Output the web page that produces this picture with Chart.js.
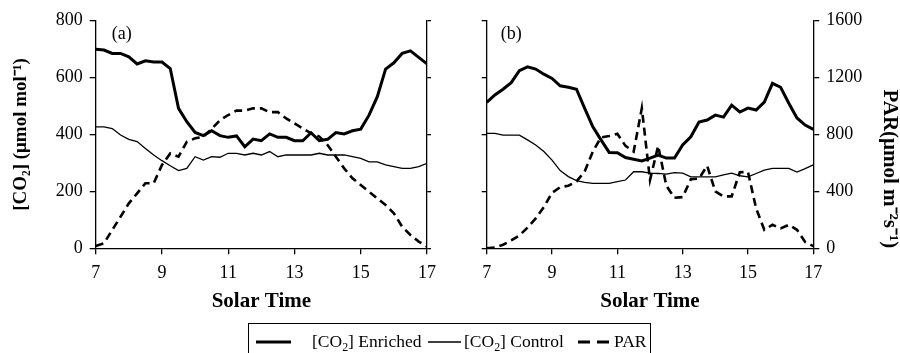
<!DOCTYPE html>
<html>
<head>
<meta charset="utf-8">
<script src="https://cdn.jsdelivr.net/npm/chart.js@4.4.1/dist/chart.umd.min.js"></script>
<style>
  html, body { margin: 0; padding: 0; background: #fff; }
  #page { position: relative; width: 900px; height: 353px; overflow: hidden; }
  .panel { position: absolute; top: 0; width: 450px; height: 353px; }
  #panelA { left: 0; }
  #panelB { left: 450px; }
  #legend {
    position: absolute; left: 248px; top: 323px; width: 403px; height: 45px;
    border: 1.3px solid #000; box-sizing: border-box;
    font-family: "Liberation Serif", "Times New Roman", serif; font-size: 17.5px; color: #000;
  }
  #legend .txt { position: absolute; top: 6px; line-height: 22px; white-space: nowrap; }
  #legend sub { font-size: 0.68em; line-height: 0; vertical-align: -0.3em; }
  #legend svg { position: absolute; top: 15px; }
</style>
</head>
<body>
<div id="page">
  <div class="panel" id="panelA"><canvas id="chartA"></canvas></div>
  <div class="panel" id="panelB"><canvas id="chartB"></canvas></div>
  <div id="legend">
    <svg style="left:7px" width="35" height="6"><line x1="0" y1="3" x2="35" y2="3" stroke="#000" stroke-width="3"/></svg>
    <span class="txt" style="left:63px">[CO<sub>2</sub>] Enriched</span>
    <svg style="left:179px" width="33" height="6"><line x1="0" y1="3" x2="33" y2="3" stroke="#000" stroke-width="1.3"/></svg>
    <span class="txt" style="left:215px">[CO<sub>2</sub>] Control</span>
    <svg style="left:329px" width="31" height="6"><line x1="0" y1="3" x2="31" y2="3" stroke="#000" stroke-width="3" stroke-dasharray="12 7"/></svg>
    <span class="txt" style="left:365px">PAR</span>
  </div>
</div>
<script>
// solar time of each reading (15 min steps)
const times = [7, 7.25, 7.5, 7.75, 8, 8.25, 8.5, 8.75, 9, 9.25, 9.5, 9.75, 10, 10.25, 10.5, 10.75,
  11, 11.25, 11.5, 11.75, 12, 12.25, 12.5, 12.75, 13, 13.25, 13.5, 13.75, 14, 14.25, 14.5, 14.75,
  15, 15.25, 15.5, 15.75, 16, 16.25, 16.5, 16.75, 17];

// panel (a)
const enrichedA = [700, 697, 685, 685, 673, 648, 659, 655, 655, 632, 492, 445, 407, 396, 413, 396,
  390, 395, 357, 384, 378, 402, 390, 390, 378, 378, 406, 378, 383, 407, 402, 413,
  419, 468, 533, 630, 652, 685, 694, 671, 648];
const controlA = [427, 427, 421, 398, 383, 375, 351, 328, 308, 290, 273, 281, 322, 310, 322, 320,
  334, 334, 328, 334, 328, 340, 322, 328, 328, 328, 328, 334, 328, 328, 328, 322,
  316, 304, 304, 293, 287, 281, 281, 287, 299];
const parA = [16, 35, 129, 222, 316, 386, 457, 457, 586, 667, 644, 749, 773, 784, 840, 900,
  937, 968, 968, 984, 984, 957, 957, 913, 878, 843, 808, 785, 726, 644, 562, 492,
  445, 398, 351, 304, 246, 152, 94, 47, 12];

// panel (b)
const enrichedB = [513, 539, 559, 582, 624, 638, 630, 612, 597, 571, 566, 559, 492, 427, 381, 337,
  336, 319, 313, 307, 317, 328, 317, 317, 363, 392, 444, 451, 468, 461, 503, 479,
  493, 486, 514, 580, 566, 510, 458, 433, 418];
const controlB = [404, 404, 398, 398, 398, 381, 363, 340, 310, 273, 252, 238, 232, 228, 228, 228,
  234, 240, 269, 269, 264, 263, 261, 266, 264, 251, 251, 251, 251, 258, 264, 255,
  251, 263, 275, 281, 281, 281, 268, 280, 293];
const parB = [0, 5, 25, 55, 90, 145, 210, 290, 390, 430, 440, 470, 540, 680, 780, 790,
  805, 720, 680, 985, 480, 720, 440, 355, 360, 485, 490, 580, 400, 365, 365, 535,
  536, 280, 130, 165, 140, 165, 130, 45, 15];

const timeTicks = [7, 9, 11, 13, 15, 17];
const co2Ticks = [0, 200, 400, 600, 800];
const parTicks = [0, 400, 800, 1200, 1600];

const serif = '"Liberation Serif", "Times New Roman", serif';

function pts(vals) {
  return times.map((t, i) => ({ x: t, y: vals[i] }));
}

const panelLabel = {
  id: 'panelLabel',
  afterDraw(chart, args, opts) {
    const { ctx, chartArea } = chart;
    ctx.save();
    ctx.font = '18px ' + serif;
    ctx.fillStyle = '#000';
    ctx.textBaseline = 'middle';
    ctx.fillText(opts.text, chartArea.left + opts.dx, chartArea.top + opts.dy);
    ctx.restore();
  }
};

function makeChart(id, enriched, control, par, cfg) {
  const ctx = document.getElementById(id).getContext('2d');
  return new Chart(ctx, {
    type: 'line',
    data: {
      datasets: [
        { label: '[CO₂] Enriched', data: pts(enriched), yAxisID: 'y', borderColor: '#000', borderWidth: 3 },
        { label: '[CO₂] Control', data: pts(control), yAxisID: 'y', borderColor: '#000', borderWidth: 1.3 },
        { label: 'PAR', data: pts(par), yAxisID: 'y1', borderColor: '#000', borderWidth: 2.6, borderDash: [8, 5] }
      ]
    },
    options: {
      animation: false,
      responsive: true,
      maintainAspectRatio: false,
      layout: { padding: { top: 20.7, left: 0, right: 0, bottom: 0 } },
      elements: { point: { radius: 0 }, line: { tension: 0, fill: false } },
      plugins: {
        legend: { display: false },
        tooltip: { enabled: false },
        panelLabel: { text: cfg.label, dx: cfg.labelDx, dy: 14 }
      },
      scales: {
        x: {
          type: 'linear', position: 'bottom', min: 7, max: 17,
          afterBuildTicks: s => { s.ticks = timeTicks.map(v => ({ value: v })); },
          afterFit: s => { s.height = 104.7; },
          border: { color: '#000', width: 1.3 },
          grid: { drawOnChartArea: false, color: '#000', lineWidth: 1.3, tickLength: 6 },
          ticks: { color: '#000', font: { family: serif, size: 18 }, padding: 8, maxRotation: 0, callback: v => String(v) },
          title: {
            display: true, text: 'Solar Time', color: '#000',
            font: { family: serif, size: 21, weight: 'bold', lineHeight: 1 },
            padding: { top: 0, bottom: 40.5 }
          }
        },
        y: {
          position: 'left', min: 0, max: 800,
          afterBuildTicks: s => { s.ticks = co2Ticks.map(v => ({ value: v })); },
          afterFit: s => { s.width = cfg.leftWidth; },
          border: { color: '#000', width: 1.3 },
          grid: { drawOnChartArea: false, color: '#000', lineWidth: 1.3, tickLength: cfg.leftTick },
          ticks: { display: cfg.leftLabels, color: '#000', font: { family: serif, size: 18 }, padding: 7, callback: v => String(v) },
          title: {
            display: cfg.leftLabels, text: '[CO₂] (μmol mol⁻¹)', color: '#000',
            font: { family: serif, size: 19, weight: 'bold', lineHeight: 1 },
            padding: { top: 12, bottom: 0 }
          }
        },
        y1: {
          position: 'right', min: 0, max: 1600,
          afterBuildTicks: s => { s.ticks = parTicks.map(v => ({ value: v })); },
          afterFit: s => { s.width = cfg.rightWidth; },
          border: { color: '#000', width: 1.3 },
          grid: { drawOnChartArea: false, color: '#000', lineWidth: 1.3, tickLength: cfg.rightTick },
          ticks: { display: !cfg.leftLabels, color: '#000', font: { family: serif, size: 18 }, padding: 7, callback: v => String(v) },
          title: {
            display: !cfg.leftLabels, text: 'PAR(μmol m⁻²s⁻¹)', color: '#000', align: 'start',
            font: { family: serif, size: 21, weight: 'bold', lineHeight: 1 },
            padding: { top: 0, bottom: 0 }
          }
        }
      }
    },
    plugins: [panelLabel]
  });
}

makeChart('chartA', enrichedA, controlA, parA,
  { label: '(a)', labelDx: 16, leftWidth: 95.7, rightWidth: 23, leftTick: 6, rightTick: 4, leftLabels: true });
makeChart('chartB', enrichedB, controlB, parB,
  { label: '(b)', labelDx: 14, leftWidth: 36.7, rightWidth: 86.7, leftTick: 5, rightTick: 6, leftLabels: false });
</script>
</body>
</html>
